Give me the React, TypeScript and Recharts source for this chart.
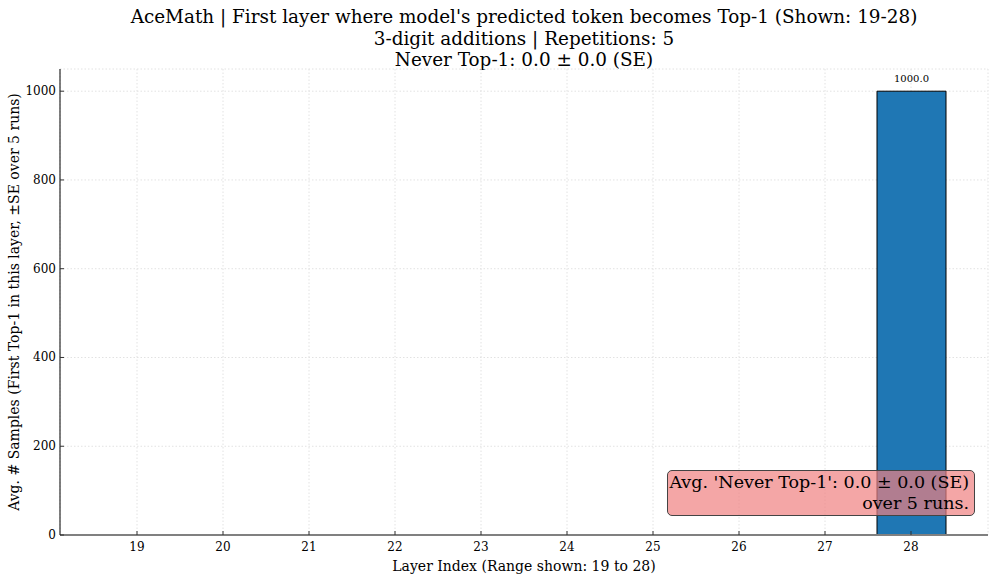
import { Bar, BarChart, CartesianGrid, ErrorBar, LabelList, XAxis, YAxis } from "recharts";

const layers = ["19", "20", "21", "22", "23", "24", "25", "26", "27", "28"];
const avgSamples = [0, 0, 0, 0, 0, 0, 0, 0, 0, 1000];
const stdErr = [0, 0, 0, 0, 0, 0, 0, 0, 0, 0];
const yTicks = [0, 200, 400, 600, 800, 1000];

const titleLines = [
  "AceMath | First layer where model's predicted token becomes Top-1 (Shown: 19-28)",
  "3-digit additions | Repetitions: 5",
  "Never Top-1: 0.0 ± 0.0 (SE)",
];

const data = layers.map((l, i) => ({ layer: l, value: avgSamples[i], se: stdErr[i] }));

const FONT = "'DejaVu Serif', serif";

function XTick(props: any) {
  const { x, y, payload } = props;
  return (
    <g>
      <line x1={x} x2={x} y1={y} y2={y - 4} stroke="#333" strokeWidth={1} />
      <text x={x} y={y + 16} textAnchor="middle" fontSize={12} fontFamily={FONT} fill="#000">
        {payload.value}
      </text>
    </g>
  );
}

function YTick(props: any) {
  const { x, y, payload } = props;
  return (
    <g>
      <line x1={x} x2={x + 4} y1={y} y2={y} stroke="#333" strokeWidth={1} />
      <text x={x - 4} y={y + 4} textAnchor="end" fontSize={12} fontFamily={FONT} fill="#000">
        {payload.value}
      </text>
    </g>
  );
}

export default function App() {
  return (
    <div style={{ position: "absolute", left: 0, top: 0, width: 997, height: 577, background: "#fff", fontFamily: FONT }}>
      {titleLines.map((t, i) => (
        <div
          key={i}
          style={{
            position: "absolute",
            left: 60,
            width: 928,
            top: 6 + i * 21.5,
            textAlign: "center",
            fontSize: 18.4,
            lineHeight: "22px",
            color: "#000",
            whiteSpace: "nowrap",
          }}
        >
          {t}
        </div>
      ))}
      <BarChart
        width={997}
        height={577}
        data={data}
        margin={{ top: 69, right: 9, bottom: 0, left: 0 }}
        style={{ position: "absolute", left: 0, top: 0 }}
      >
        <CartesianGrid stroke="#e2e2e2" strokeDasharray="1.5 2" />
        <XAxis
          dataKey="layer"
          padding={{ left: 34, right: 34 }}
          tickLine={false}
          tickSize={0}
          tickMargin={0}
          height={42}
          axisLine={{ stroke: "#808080", strokeWidth: 2 }}
          tick={<XTick />}
          interval={0}
          label={{
            value: "Layer Index (Range shown: 19 to 28)",
            position: "insideBottom",
            offset: 6,
            fontSize: 14,
            fontFamily: FONT,
            fill: "#000",
          }}
        />
        <YAxis
          domain={[0, 1050]}
          ticks={yTicks}
          width={60}
          tickLine={false}
          tickSize={0}
          tickMargin={0}
          axisLine={{ stroke: "#000", strokeWidth: 1 }}
          tick={<YTick />}
          label={{
            value: "Avg. # Samples (First Top-1 in this layer, ±SE over 5 runs)",
            angle: -90,
            position: "insideLeft",
            offset: 14,
            style: { textAnchor: "middle" },
            fontSize: 14,
            fontFamily: FONT,
            fill: "#000",
          }}
        />
        <Bar dataKey="value" fill="#1f77b4" stroke="#000" strokeWidth={1} barSize={69} isAnimationActive={false}>
          <ErrorBar dataKey="se" width={12} stroke="#000" strokeWidth={1.5} />
          <LabelList
            dataKey="value"
            position="top"
            content={(p: any) =>
              p.value > 0 ? (
                <text x={p.x + p.width / 2} y={p.y - 9} textAnchor="middle" fontSize={10} fontFamily={FONT} fill="#000">
                  {Number(p.value).toFixed(1)}
                </text>
              ) : null
            }
          />
        </Bar>
      </BarChart>
      <div
        style={{
          position: "absolute",
          left: 667,
          top: 470,
          width: 308,
          height: 46,
          boxSizing: "border-box",
          background: "rgba(240,128,128,0.7)",
          border: "1px solid #444",
          borderRadius: 5,
          textAlign: "right",
          padding: "1px 5px 0 0",
          fontSize: 17.5,
          lineHeight: "21px",
          color: "#000",
          whiteSpace: "nowrap",
        }}
      >
        <div>Avg. 'Never Top-1': 0.0 ± 0.0 (SE)</div>
        <div>over 5 runs.</div>
      </div>
    </div>
  );
}
